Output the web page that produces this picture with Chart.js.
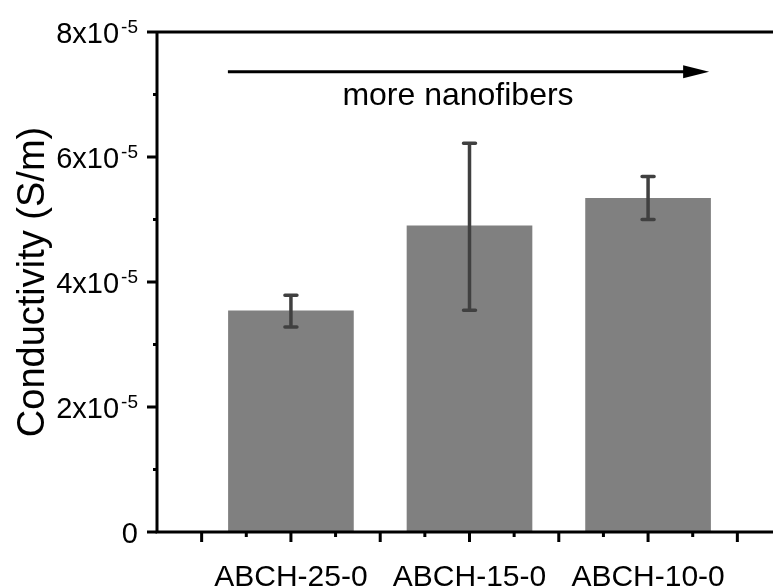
<!DOCTYPE html>
<html>
<head>
<meta charset="utf-8">
<script src="https://cdn.jsdelivr.net/npm/chart.js@4"></script>
<style>
  html, body { margin: 0; padding: 0; background: #fff; overflow: hidden; }
  canvas { display: block; }
</style>
</head>
<body>
<canvas id="myChart" width="800" height="587"></canvas>
<script>
// conductivity of the ABCH samples, values in S/m
const categories = ["ABCH-25-0", "ABCH-15-0", "ABCH-10-0"];
const categoryPos = [1, 2, 3];
const conductivity = [3.54e-5, 4.90e-5, 5.34e-5];
const errLow = [3.28e-5, 3.55e-5, 5.00e-5];
const errHigh = [3.79e-5, 6.22e-5, 5.69e-5];

const yTickValues = [0, 2e-5, 4e-5, 6e-5, 8e-5];
const yTickBase = ["0", "2x10", "4x10", "6x10", "8x10"];
const yTickExp = ["", "-5", "-5", "-5", "-5"];
const yMinorValues = [1e-5, 3e-5, 5e-5, 7e-5];
const xMajorValues = [0.5, 1, 1.5, 2, 2.5, 3, 3.5];
const xMinorValues = [0.75, 1.25, 1.75, 2.25, 2.75, 3.25];

const FONT = '"Liberation Sans", Arial, sans-serif';

// axes, ticks, labels, error bars and the arrow are drawn by hand
const framePlugin = {
  id: "frame",
  afterDatasetsDraw(chart) {
    const ctx = chart.ctx;
    const x = chart.scales.x;
    const y = chart.scales.y;
    const area = chart.chartArea;

    ctx.save();

    // error bars
    ctx.strokeStyle = "#404040";
    ctx.lineWidth = 3.5;
    ctx.lineCap = "round";
    for (let i = 0; i < categoryPos.length; i++) {
      const px = x.getPixelForValue(categoryPos[i]);
      const top = y.getPixelForValue(errHigh[i]);
      const bot = y.getPixelForValue(errLow[i]);
      ctx.beginPath();
      ctx.moveTo(px, top);
      ctx.lineTo(px, bot);
      ctx.moveTo(px - 6, top);
      ctx.lineTo(px + 6, top);
      ctx.moveTo(px - 6, bot);
      ctx.lineTo(px + 6, bot);
      ctx.stroke();
    }

    // axis lines
    ctx.strokeStyle = "#000";
    ctx.lineCap = "butt";
    ctx.lineWidth = 3;
    ctx.beginPath();
    ctx.moveTo(area.left, area.top);
    ctx.lineTo(area.left, area.bottom);
    ctx.lineTo(area.right, area.bottom);
    ctx.moveTo(area.left, area.top);
    ctx.lineTo(area.right, area.top);
    ctx.stroke();

    // y ticks
    ctx.beginPath();
    yTickValues.forEach((v) => {
      const py = y.getPixelForValue(v);
      ctx.moveTo(area.left - 10, py);
      ctx.lineTo(area.left, py);
    });
    yMinorValues.forEach((v) => {
      const py = y.getPixelForValue(v);
      ctx.moveTo(area.left - 4, py);
      ctx.lineTo(area.left, py);
    });
    // x ticks
    xMajorValues.forEach((v) => {
      const px = x.getPixelForValue(v);
      ctx.moveTo(px, area.bottom);
      ctx.lineTo(px, area.bottom + 10);
    });
    xMinorValues.forEach((v) => {
      const px = x.getPixelForValue(v);
      ctx.moveTo(px, area.bottom);
      ctx.lineTo(px, area.bottom + 5);
    });
    ctx.stroke();

    // y tick labels with superscript
    ctx.fillStyle = "#000";
    ctx.textBaseline = "alphabetic";
    ctx.textAlign = "left";
    yTickValues.forEach((v, i) => {
      const py = y.getPixelForValue(v);
      const right = area.left - 19;
      ctx.font = "19px " + FONT;
      const expW = ctx.measureText(yTickExp[i]).width;
      ctx.font = "29px " + FONT;
      const baseW = ctx.measureText(yTickBase[i]).width;
      const gap = yTickExp[i] ? 2 : 0;
      const start = right - expW - gap - baseW;
      ctx.fillText(yTickBase[i], start, py + 11);
      ctx.font = "19px " + FONT;
      ctx.fillText(yTickExp[i], start + baseW + gap, py + 1);
    });

    // x category labels
    ctx.font = "30px " + FONT;
    ctx.textAlign = "center";
    categories.forEach((c, i) => {
      ctx.fillText(c, x.getPixelForValue(categoryPos[i]), area.bottom + 54);
    });

    // y axis title
    ctx.save();
    ctx.translate(44, (area.top + area.bottom) / 2);
    ctx.rotate(-Math.PI / 2);
    ctx.font = "38px " + FONT;
    ctx.textAlign = "center";
    ctx.fillText("Conductivity (S/m)", 0, 0);
    ctx.restore();

    // arrow + note
    const ax0 = x.getPixelForValue(0.647);
    const ax1 = x.getPixelForValue(3.342);
    const ay = y.getPixelForValue(7.365e-5);
    ctx.lineWidth = 3;
    ctx.beginPath();
    ctx.moveTo(ax0, ay);
    ctx.lineTo(ax1 - 20, ay);
    ctx.stroke();
    ctx.beginPath();
    ctx.moveTo(ax1, ay);
    ctx.lineTo(ax1 - 26, ay - 6.5);
    ctx.lineTo(ax1 - 26, ay + 6.5);
    ctx.closePath();
    ctx.fill();

    ctx.font = "32px " + FONT;
    ctx.textAlign = "center";
    ctx.fillText("more nanofibers", 458, 105);

    ctx.restore();
  },
};

new Chart(document.getElementById("myChart"), {
  type: "bar",
  data: {
    datasets: [
      {
        label: "Conductivity",
        data: categoryPos.map((p, i) => ({ x: p, y: conductivity[i] })),
        backgroundColor: "#808080",
        borderWidth: 0,
        barThickness: 125,
      },
    ],
  },
  options: {
    responsive: false,
    devicePixelRatio: 1,
    animation: false,
    layout: {
      padding: { left: 157, top: 32, right: 18, bottom: 55 },
    },
    plugins: {
      legend: { display: false },
      tooltip: { enabled: false },
    },
    scales: {
      x: {
        type: "linear",
        display: false,
        min: 0.25,
        max: 3.75,
        offset: false,
      },
      y: {
        display: false,
        min: 0,
        max: 8e-5,
      },
    },
  },
  plugins: [framePlugin],
});
</script>
</body>
</html>
